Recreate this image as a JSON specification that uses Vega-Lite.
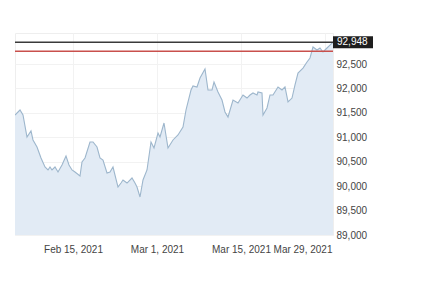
{
  "$schema": "https://vega.github.io/schema/vega-lite/v6.json",
  "width": 318,
  "height": 202,
  "autosize": "none",
  "padding": {"left": 15, "top": 33, "right": 111, "bottom": 73},
  "background": "white",
  "config": {
    "view": {"stroke": "#eeeeee"},
    "font": "Liberation Sans",
    "axis": {"labelOverlap": false}
  },
  "datasets": {
    "series": [
      {"t": "2021-02-05T08:00:00", "v": 91456},
      {"t": "2021-02-06T04:00:00", "v": 91559},
      {"t": "2021-02-06T16:00:00", "v": 91456},
      {"t": "2021-02-07T08:00:00", "v": 91006},
      {"t": "2021-02-08T00:00:00", "v": 91129},
      {"t": "2021-02-08T08:00:00", "v": 90945},
      {"t": "2021-02-09T00:00:00", "v": 90801},
      {"t": "2021-02-09T16:00:00", "v": 90576},
      {"t": "2021-02-10T08:00:00", "v": 90392},
      {"t": "2021-02-10T20:00:00", "v": 90331},
      {"t": "2021-02-11T04:00:00", "v": 90392},
      {"t": "2021-02-11T12:00:00", "v": 90331},
      {"t": "2021-02-12T00:00:00", "v": 90392},
      {"t": "2021-02-12T12:00:00", "v": 90290},
      {"t": "2021-02-13T04:00:00", "v": 90433},
      {"t": "2021-02-13T20:00:00", "v": 90617},
      {"t": "2021-02-14T08:00:00", "v": 90433},
      {"t": "2021-02-14T20:00:00", "v": 90331},
      {"t": "2021-02-15T08:00:00", "v": 90290},
      {"t": "2021-02-16T04:00:00", "v": 90208},
      {"t": "2021-02-16T12:00:00", "v": 90494},
      {"t": "2021-02-17T00:00:00", "v": 90576},
      {"t": "2021-02-17T20:00:00", "v": 90904},
      {"t": "2021-02-18T08:00:00", "v": 90904},
      {"t": "2021-02-19T00:00:00", "v": 90801},
      {"t": "2021-02-19T12:00:00", "v": 90576},
      {"t": "2021-02-20T00:00:00", "v": 90535},
      {"t": "2021-02-20T16:00:00", "v": 90269},
      {"t": "2021-02-21T04:00:00", "v": 90290},
      {"t": "2021-02-21T16:00:00", "v": 90392},
      {"t": "2021-02-22T08:00:00", "v": 90064},
      {"t": "2021-02-22T12:00:00", "v": 89983},
      {"t": "2021-02-23T00:00:00", "v": 90064},
      {"t": "2021-02-23T08:00:00", "v": 90126},
      {"t": "2021-02-24T00:00:00", "v": 90064},
      {"t": "2021-02-24T20:00:00", "v": 90167},
      {"t": "2021-02-25T08:00:00", "v": 90064},
      {"t": "2021-02-25T16:00:00", "v": 89983},
      {"t": "2021-02-26T04:00:00", "v": 89778},
      {"t": "2021-02-26T16:00:00", "v": 90126},
      {"t": "2021-02-27T08:00:00", "v": 90331},
      {"t": "2021-02-28T00:00:00", "v": 90904},
      {"t": "2021-02-28T12:00:00", "v": 90781},
      {"t": "2021-03-01T04:00:00", "v": 91088},
      {"t": "2021-03-01T12:00:00", "v": 91006},
      {"t": "2021-03-02T04:00:00", "v": 91293},
      {"t": "2021-03-02T20:00:00", "v": 90781},
      {"t": "2021-03-03T16:00:00", "v": 90945},
      {"t": "2021-03-04T12:00:00", "v": 91047},
      {"t": "2021-03-05T08:00:00", "v": 91211},
      {"t": "2021-03-05T20:00:00", "v": 91559},
      {"t": "2021-03-06T16:00:00", "v": 91968},
      {"t": "2021-03-07T00:00:00", "v": 92050},
      {"t": "2021-03-07T16:00:00", "v": 92030},
      {"t": "2021-03-08T04:00:00", "v": 92214},
      {"t": "2021-03-09T00:00:00", "v": 92398},
      {"t": "2021-03-09T12:00:00", "v": 91968},
      {"t": "2021-03-10T04:00:00", "v": 91968},
      {"t": "2021-03-10T12:00:00", "v": 92132},
      {"t": "2021-03-11T04:00:00", "v": 91927},
      {"t": "2021-03-11T20:00:00", "v": 91763},
      {"t": "2021-03-12T08:00:00", "v": 91518},
      {"t": "2021-03-12T20:00:00", "v": 91415},
      {"t": "2021-03-13T16:00:00", "v": 91763},
      {"t": "2021-03-14T12:00:00", "v": 91702},
      {"t": "2021-03-15T08:00:00", "v": 91866},
      {"t": "2021-03-16T00:00:00", "v": 91804},
      {"t": "2021-03-16T12:00:00", "v": 91866},
      {"t": "2021-03-17T00:00:00", "v": 91907},
      {"t": "2021-03-17T16:00:00", "v": 91866},
      {"t": "2021-03-17T20:00:00", "v": 91927},
      {"t": "2021-03-18T12:00:00", "v": 91907},
      {"t": "2021-03-18T16:00:00", "v": 91456},
      {"t": "2021-03-19T08:00:00", "v": 91600},
      {"t": "2021-03-19T20:00:00", "v": 91866},
      {"t": "2021-03-20T08:00:00", "v": 91866},
      {"t": "2021-03-21T04:00:00", "v": 92030},
      {"t": "2021-03-21T20:00:00", "v": 91968},
      {"t": "2021-03-22T08:00:00", "v": 92030},
      {"t": "2021-03-22T20:00:00", "v": 91723},
      {"t": "2021-03-23T12:00:00", "v": 91804},
      {"t": "2021-03-24T00:00:00", "v": 92071},
      {"t": "2021-03-24T12:00:00", "v": 92316},
      {"t": "2021-03-25T08:00:00", "v": 92418},
      {"t": "2021-03-26T00:00:00", "v": 92541},
      {"t": "2021-03-26T12:00:00", "v": 92623},
      {"t": "2021-03-27T00:00:00", "v": 92848},
      {"t": "2021-03-27T16:00:00", "v": 92787},
      {"t": "2021-03-28T04:00:00", "v": 92828},
      {"t": "2021-03-28T16:00:00", "v": 92746},
      {"t": "2021-03-29T08:00:00", "v": 92828},
      {"t": "2021-03-29T20:00:00", "v": 92889},
      {"t": "2021-03-30T08:00:00", "v": 92948}
    ],
    "refs": [
      {"t": "2021-03-30T08:00:00", "v": 92948, "kind": "last", "label": "92,948"},
      {"t": "2021-03-30T08:00:00", "v": 92760, "kind": "prev", "label": ""}
    ]
  },
  "encoding": {
    "x": {
      "field": "t",
      "type": "temporal",
      "scale": {"domain": ["2021-02-05T08:00:00", "2021-03-30T08:00:00"]},
      "axis": {
        "title": null,
        "values": [
          {"year": 2021, "month": 2, "date": 15},
          {"year": 2021, "month": 3, "date": 1},
          {"year": 2021, "month": 3, "date": 15},
          {"year": 2021, "month": 3, "date": 29}
        ],
        "format": "%b %-d, %Y",
        "labelFontSize": 10,
        "labelColor": "#444444",
        "labelPadding": 9,
        "labelFlush": 10,
        "labelFlushOffset": 7,
        "labelOverlap": false,
        "ticks": false,
        "domain": false,
        "grid": true,
        "gridColor": "#f2f2f2"
      }
    },
    "y": {
      "field": "v",
      "type": "quantitative",
      "scale": {"domain": [89000, 93135], "nice": false, "zero": false},
      "axis": {
        "title": null,
        "orient": "right",
        "values": [89000, 89500, 90000, 90500, 91000, 91500, 92000, 92500],
        "format": ",.0f",
        "labelFontSize": 10,
        "labelColor": "#444444",
        "labelPadding": 3,
        "labelOverlap": false,
        "ticks": false,
        "domain": false,
        "grid": true,
        "gridColor": "#f2f2f2"
      }
    }
  },
  "layer": [
    {
      "data": {"name": "series"},
      "mark": {"type": "area", "color": "#e2ebf5", "opacity": 1, "clip": true}
    },
    {
      "data": {"name": "series"},
      "mark": {"type": "line", "color": "#9db6cc", "strokeWidth": 1.1, "clip": true}
    },
    {
      "data": {"name": "refs"},
      "mark": {"type": "rule", "strokeWidth": 1.5},
      "encoding": {
        "x": null,
        "color": {
          "field": "kind",
          "type": "nominal",
          "scale": {"domain": ["last", "prev"], "range": ["#3a3a3a", "#c9504c"]},
          "legend": null
        }
      }
    },
    {
      "data": {"name": "refs"},
      "transform": [{"filter": "datum.kind === 'last'"}],
      "mark": {
        "type": "point",
        "shape": "M0,-0.3H2V0.3H0Z",
        "size": 1600,
        "filled": true,
        "color": "#1e1e1e",
        "opacity": 1,
        "clip": false
      }
    },
    {
      "data": {"name": "refs"},
      "transform": [{"filter": "datum.kind === 'last'"}],
      "mark": {
        "type": "text",
        "align": "left",
        "baseline": "middle",
        "dx": 4,
        "fontSize": 10,
        "color": "white"
      },
      "encoding": {
        "text": {"field": "label"}
      }
    }
  ]
}
